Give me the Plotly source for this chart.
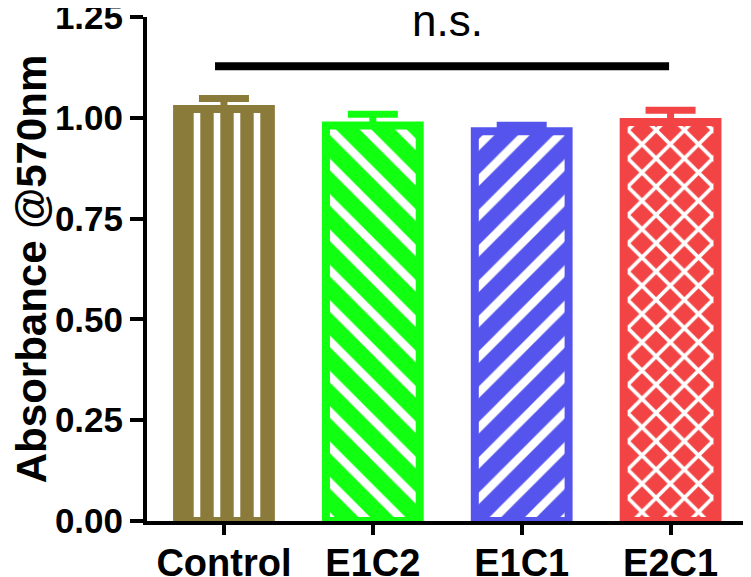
import plotly.graph_objects as go

categories = ["Control", "E1C2", "E1C1", "E2C1"]
means = [1.022, 0.981, 0.967, 0.990]
errors = [0.026, 0.028, 0.015, 0.029]
colors = ["#8B7B3A", "#11FF11", "#5555EE", "#F24444"]
patterns = ["|", "\\", "/", "x"]
y_ticks = [0.0, 0.25, 0.5, 0.75, 1.0, 1.25]
y_ticktext = ["0.00", "0.25", "0.50", "0.75", "1.00", "1.25"]
ns_line_x = [-0.06, 2.99]
ns_line_y = [1.128, 1.128]
ns_label = "n.s."

positions = list(range(len(categories)))

fig = go.Figure()
for i, cat in enumerate(categories):
    fig.add_trace(go.Bar(
        x=[positions[i]], y=[means[i]], name=cat, width=0.63,
        marker=dict(
            color=colors[i],
            line=dict(color=colors[i], width=8),
            pattern=dict(shape=patterns[i], fgcolor="white", bgcolor=colors[i],
                         size=20 if patterns[i] in ("|", "x") else 25,
                         solidity=0.33, fillmode="replace"),
        ),
        error_y=dict(type="data", array=[errors[i]], arrayminus=[0], symmetric=False,
                     color=colors[i], thickness=7, width=25),
        showlegend=False,
    ))

fig.add_trace(go.Scatter(x=ns_line_x, y=ns_line_y, mode="lines",
                         line=dict(color="black", width=8), showlegend=False,
                         hoverinfo="skip"))

fig.add_annotation(x=1.5, y=1.243, xref="x", yref="y", text=ns_label, showarrow=False,
                   font=dict(family="Liberation Sans, Arial", size=44, color="black"),
                   yanchor="middle", xanchor="center")

# the page body adds an 8px offset, so the figure is sized for the visible area
fig.update_layout(
    width=743, height=569,
    margin=dict(l=139, r=6, t=9, b=56),
    paper_bgcolor="white", plot_bgcolor="white",
    barmode="group",
    font=dict(family="Liberation Sans, Arial", color="black"),
)
fig.update_xaxes(
    range=[-0.517, 3.5], tickvals=positions, ticktext=categories,
    showline=True, linecolor="black", linewidth=4,
    ticks="outside", ticklen=10, tickwidth=4, tickcolor="black",
    tickfont=dict(family="Liberation Sans, Arial", size=38, color="black", weight="bold"),
    ticklabelstandoff=-5, ticklabeloverflow="allow",
    showgrid=False, zeroline=False, automargin=False,
)
fig.update_yaxes(
    range=[0, 1.2505], tickvals=y_ticks, ticktext=y_ticktext,
    showline=True, linecolor="black", linewidth=4,
    ticks="outside", ticklen=13, tickwidth=4, tickcolor="black",
    tickfont=dict(family="Liberation Sans, Arial", size=35, color="black", weight="bold"),
    ticklabeloverflow="allow",
    title=dict(text="Absorbance @570nm", standoff=6,
               font=dict(family="Liberation Sans, Arial", size=42, color="black", weight="bold")),
    showgrid=False, zeroline=False, automargin=False,
)

fig.write_html("out.html")
